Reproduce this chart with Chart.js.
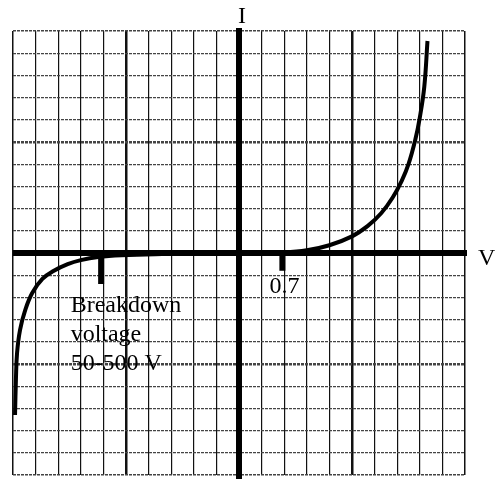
<!DOCTYPE html>
<html>
<head>
<meta charset="utf-8">
<script src="https://cdn.jsdelivr.net/npm/chart.js@4"></script>
<style>
  html, body { margin: 0; padding: 0; background: #fff; }
  #wrap { width: 495px; height: 479px; position: relative; }
</style>
</head>
<body>
<div id="wrap"><canvas id="diodeChart"></canvas></div>
<script>
// diode I-V curve (1 unit = 1 grid cell)
const curveV = [-9.91, -9.87, -9.82, -9.69, -9.46, -9.15, -8.7, -8.21, -7.58, -7.0, -6.23, -5.2, -3.4, 0,
                2.0, 3.0, 4.0, 5.0, 5.7, 6.3, 6.8, 7.2, 7.5, 7.8, 8.0, 8.2, 8.34];
const curveI = [-7.3, -5.68, -4.5, -3.47, -2.57, -1.8, -1.17, -0.81, -0.5, -0.32, -0.18, -0.1, -0.05, 0,
                0.03, 0.12, 0.35, 0.75, 1.22, 1.8, 2.5, 3.25, 4.0, 5.1, 6.1, 7.5, 9.55];

// tick marks on the V axis
const markV = [-6.1, 1.92];
const markDepth = [-1.4, -0.8];
const markLabels = ['', '0.7'];

const axisNames = { x: 'V', y: 'I' };
const noteLines = ['Breakdown', 'voltage', '50-500 V'];
const noteAt = { x: -7.45, y: -2.65 };

const gridMin = -10, gridMax = 10;
const serif = '"Liberation Serif", "DejaVu Serif", serif';

const curveData = curveV.map((v, i) => ({ x: v, y: curveI[i] }));
const markSets = markV.map((v, i) => ({
    data: [{ x: v, y: 0 }, { x: v, y: markDepth[i] }],
    borderColor: '#000', borderWidth: 6, pointRadius: 0, borderCapStyle: 'butt'
}));

function gridWidth(ctx) {
    const v = ctx.tick.value;
    if (Math.abs(v) === 10) return 1.5;
    return v % 5 === 0 ? 2.5 : 1.2;
}

const axesPlugin = {
    id: 'axesPlugin',
    afterDatasetsDraw(chart) {
        const { ctx, chartArea: a, scales: { x, y } } = chart;
        const x0 = x.getPixelForValue(0), y0 = y.getPixelForValue(0);
        ctx.save();
        ctx.strokeStyle = '#000';
        ctx.lineWidth = 6;
        ctx.beginPath();
        ctx.moveTo(x0, a.top - 3); ctx.lineTo(x0, chart.height);
        ctx.moveTo(a.left, y0); ctx.lineTo(a.right + 2, y0);
        ctx.stroke();

        ctx.fillStyle = '#000';
        ctx.font = '24px ' + serif;
        ctx.textAlign = 'center';
        ctx.textBaseline = 'alphabetic';
        ctx.fillText(axisNames.y, x0 + 3, a.top - 8);
        ctx.textAlign = 'left';
        ctx.fillText(axisNames.x, a.right + 13, y0 + 12);

        ctx.textAlign = 'center';
        markV.forEach((v, i) => {
            if (markLabels[i]) ctx.fillText(markLabels[i], x.getPixelForValue(v) + 2, y.getPixelForValue(markDepth[i]) + 22);
        });

        ctx.textAlign = 'left';
        const nx = x.getPixelForValue(noteAt.x), ny = y.getPixelForValue(noteAt.y);
        noteLines.forEach((t, i) => ctx.fillText(t, nx, ny + i * 29));
        ctx.restore();
    }
};

new Chart(document.getElementById('diodeChart').getContext('2d'), {
    type: 'line',
    data: {
        datasets: [
            { data: curveData, borderColor: '#000', borderWidth: 4, pointRadius: 0, tension: 0.4 },
            ...markSets
        ]
    },
    options: {
        responsive: true,
        maintainAspectRatio: false,
        animation: false,
        layout: { padding: { left: 13, top: 31, right: 30, bottom: 4 } },
        plugins: { legend: { display: false }, tooltip: { enabled: false } },
        scales: {
            x: {
                type: 'linear', min: gridMin, max: gridMax,
                ticks: { display: false, stepSize: 1 },
                grid: { color: '#111', lineWidth: gridWidth, drawTicks: false },
                border: { display: false }
            },
            y: {
                type: 'linear', min: gridMin, max: gridMax,
                ticks: { display: false, stepSize: 1 },
                grid: { color: '#444', lineWidth: gridWidth, drawTicks: false },
                border: { display: false, dash: [3, 1] }
            }
        }
    },
    plugins: [axesPlugin]
});
</script>
</body>
</html>
